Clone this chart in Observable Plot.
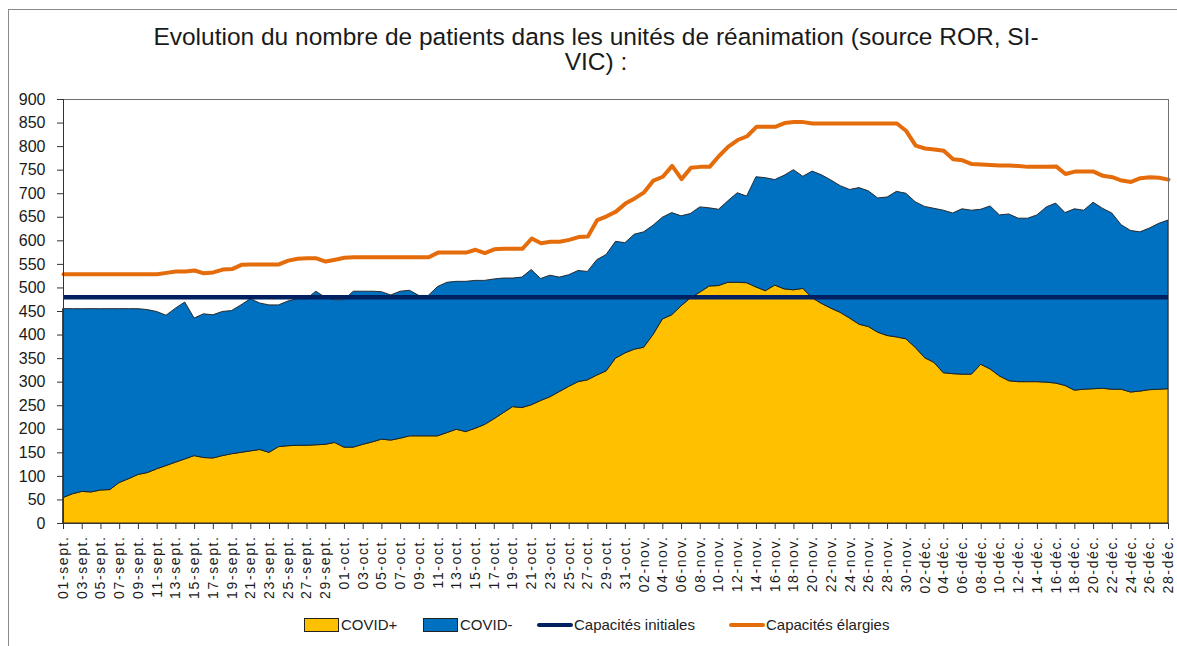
<!DOCTYPE html>
<html lang="fr">
<head>
<meta charset="utf-8">
<script src="https://cdn.jsdelivr.net/npm/d3@7"></script>
<script src="https://cdn.jsdelivr.net/npm/@observablehq/plot@0.6"></script>
<style>
  html, body { margin: 0; padding: 0; background: #fff; overflow: hidden; }
  #wrap { position: relative; width: 1177px; height: 646px; font-family: "Liberation Sans", Arial, sans-serif; color: #1a1a1a; }
  #border { position: absolute; left: 8px; top: 9px; width: 1400px; height: 900px; border-left: 1px solid #8a8a8a; border-top: 1px solid #8a8a8a; }
  #title { position: absolute; left: 0; top: 24px; width: 1192px; text-align: center; font-size: 24.5px; line-height: 25px; color: #1a1a1a; }
  #chart { position: absolute; left: 0; top: 0; }
  #chart svg [aria-label="x-axis tick label"] text { letter-spacing: 1.6px; }
  .lg { position: absolute; font-size: 15px; line-height: 16px; top: 617px; color: #222; white-space: nowrap; }
  .box { position: absolute; top: 618px; width: 33px; height: 12px; border: 1px solid #222; }
  .ln { position: absolute; top: 623px; width: 36px; height: 4px; border-radius: 2px; }
</style>
</head>
<body>
<div id="wrap">
  <div id="border"></div>
  <div id="chart"></div>
  <div id="title">Evolution du nombre de patients dans les unités de réanimation (source ROR, SI-<br>VIC) :</div>
  <div id="legend"></div>
</div>
<script>
// ---- Data (01-sept -> 28-déc 2020, daily) ----
const startDate = new Date(Date.UTC(2020, 8, 1));
const endDate = new Date(Date.UTC(2020, 11, 28));
const dates = d3.utcDay.range(startDate, d3.utcDay.offset(endDate, 1));

const covidPlus = [
  54, 62, 67, 66, 70, 71, 86, 94, 103, 107, 115, 122, 129, 136, 143, 139, 138, 143, 147, 150,
  153, 156, 150, 162, 164, 165, 165, 166, 167, 171, 161, 161, 167, 172, 178, 176, 180, 185, 185, 185,
  185, 192, 199, 194, 201, 209, 221, 234, 247, 245, 251, 260, 268, 279, 290, 300, 304, 314, 323, 350,
  361, 369, 373, 400, 433, 442, 461, 478, 490, 503, 504, 511, 511, 510, 501, 493, 505, 497, 495, 498,
  478, 466, 456, 447, 435, 422, 417, 405, 398, 395, 391, 373, 351, 341, 319, 317, 316, 316, 337, 327,
  312, 302, 300, 300, 300, 299, 297, 292, 282, 284, 285, 286, 284, 284, 278, 280, 283, 284, 285
];
const covidMinus = [
  401, 393, 388, 389, 385, 384, 369, 361, 352, 346, 334, 319, 327, 333, 292, 305, 304, 306, 304, 313,
  323, 311, 313, 301, 307, 311, 311, 326, 312, 303, 313, 331, 325, 320, 313, 308, 312, 309, 298, 298,
  317, 319, 314, 319, 314, 306, 297, 286, 273, 277, 287, 259, 258, 243, 237, 236, 230, 245, 247, 248,
  234, 244, 245, 232, 216, 217, 191, 179, 181, 166, 162, 173, 190, 184, 234, 240, 224, 241, 255, 238,
  269, 273, 272, 269, 273, 290, 288, 285, 294, 309, 309, 309, 321, 327, 345, 341, 351, 348, 329, 346,
  342, 354, 347, 347, 354, 372, 382, 367, 385, 380, 396, 382, 374, 349, 343, 338, 343, 352, 358
];
const capacitesElargies = [
  529, 529, 529, 529, 529, 529, 529, 529, 529, 529, 529, 532, 535, 535, 537, 531, 533, 539, 540, 549,
  550, 550, 550, 550, 558, 562, 563, 563, 556, 560, 564, 565, 565, 565, 565, 565, 565, 565, 565, 565,
  575, 575, 575, 575, 581, 574, 582, 583, 583, 583, 605, 595, 598, 598, 602, 608, 609, 644, 652, 662,
  679, 690, 703, 728, 736, 759, 731, 755, 757, 757, 780, 800, 814, 822, 842, 842, 842, 850, 852, 852,
  849, 849, 849, 849, 849, 849, 849, 849, 849, 849, 833, 802, 796, 794, 791, 773, 771, 763, 762, 761,
  760, 760, 759, 757, 757, 757, 758, 742, 747, 747, 747, 738, 735, 728, 725, 733, 735, 734, 730
];
const capacitesInitiales = [480];

const seriesNames = ["COVID+", "COVID-"];
const seriesColors = ["#FFC000", "#0070C0"];
const colorInitiales = "#002060";
const colorElargies = "#E46C0A";
const yTicks = d3.range(0, 901, 50);
const monthAbbr = ["janv.", "févr.", "mars", "avr.", "mai", "juin", "juil.", "août", "sept.", "oct.", "nov.", "déc."];

// ---- Build tables ----
const stacked = [];
dates.forEach((d, i) => {
  stacked.push({date: d, series: "COVID+", value: covidPlus[i]});
  stacked.push({date: d, series: "COVID-", value: covidMinus[i]});
});
const elargies = dates.map((d, i) => ({date: d, value: capacitesElargies[i]}));
const xTicks = dates.filter((d, i) => i % 2 === 0);
const fmt = d => String(d.getUTCDate()).padStart(2, "0") + "-" + monthAbbr[d.getUTCMonth()];

const chart = Plot.plot({
  width: 1177,
  height: 612,
  marginLeft: 63,
  marginRight: 9,
  marginTop: 99,
  marginBottom: 89,
  style: {fontFamily: "'Liberation Sans', Arial, sans-serif", color: "#1a1a1a", background: "transparent", overflow: "visible"},
  x: {type: "utc", domain: [dates[0], dates[dates.length - 1]]},
  y: {domain: [0, 900]},
  color: {domain: seriesNames, range: seriesColors},
  marks: [
    Plot.areaY(stacked, {x: "date", y: "value", z: "series", fill: "series", order: seriesNames, stroke: "#1e1e1e", strokeWidth: 0.9, strokeLinejoin: "round"}),
    Plot.ruleY(capacitesInitiales, {stroke: colorInitiales, strokeWidth: 4.5}),
    Plot.lineY(elargies, {x: "date", y: "value", stroke: colorElargies, strokeWidth: 4, strokeLinejoin: "round", strokeLinecap: "round"}),
    Plot.frame({stroke: "#707070", strokeWidth: 1}),
    Plot.axisY({ticks: yTicks, label: null, tickSize: 6, tickPadding: 12, fontSize: 16, stroke: "#333", tickFormat: d => String(d)}),
    Plot.axisX({ticks: xTicks, label: null, tickFormat: fmt, tickRotate: -90, tickSize: 6, tickPadding: 6, fontSize: 14, stroke: "#333"}),
    Plot.ruleX([dates[0]], {stroke: "#333", strokeWidth: 1}),
    Plot.ruleY([0], {stroke: "#333", strokeWidth: 1})
  ]
});
document.getElementById("chart").appendChild(chart);

// ---- Legend ----
const legend = document.getElementById("legend");
const items = [
  {kind: "box", color: seriesColors[0], label: seriesNames[0], x: 304},
  {kind: "box", color: seriesColors[1], label: seriesNames[1], x: 423},
  {kind: "ln", color: colorInitiales, label: "Capacités initiales", x: 537},
  {kind: "ln", color: colorElargies, label: "Capacités élargies", x: 729}
];
items.forEach(it => {
  const s = document.createElement("div");
  s.className = it.kind;
  s.style.left = it.x + "px";
  s.style.background = it.color;
  legend.appendChild(s);
  const t = document.createElement("div");
  t.className = "lg";
  t.style.left = (it.x + 37) + "px";
  t.textContent = it.label;
  legend.appendChild(t);
});
</script>
</body>
</html>
